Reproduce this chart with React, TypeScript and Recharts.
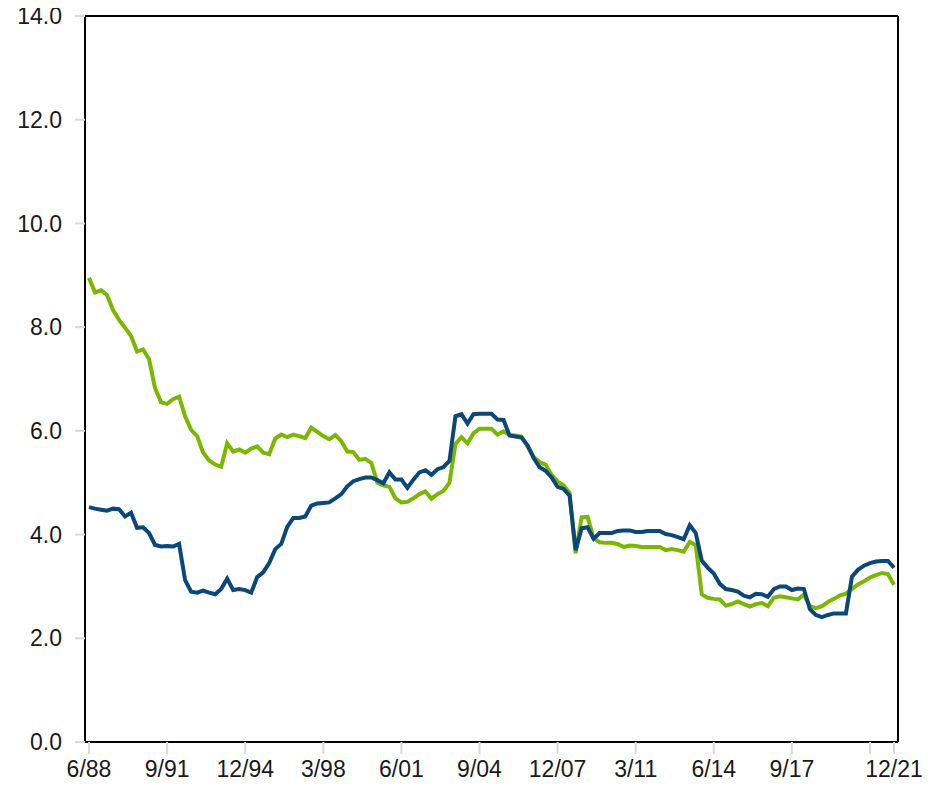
import React from 'react';
import { LineChart, Line, XAxis, YAxis, CartesianGrid } from 'recharts';

// quarterly, 6/88 .. 12/21
const startYear = 1988;
const startMonth = 6;

const greenValues = [
  8.95, 8.67, 8.71, 8.62, 8.33, 8.14, 7.99, 7.83, 7.53, 7.57,
  7.38, 6.82, 6.55, 6.52, 6.61, 6.66, 6.28, 6.02, 5.9, 5.58,
  5.43, 5.35, 5.31, 5.76, 5.6, 5.64, 5.58, 5.66, 5.7, 5.58,
  5.55, 5.85, 5.93, 5.88, 5.93, 5.9, 5.86, 6.06, 5.98, 5.9,
  5.84, 5.92, 5.8, 5.6, 5.59, 5.44, 5.46, 5.38, 5.0, 4.95,
  4.92, 4.7, 4.62, 4.63, 4.7, 4.78, 4.83, 4.69, 4.78, 4.84,
  5.0, 5.75, 5.88, 5.76, 5.95, 6.04, 6.04, 6.04, 5.93, 5.99,
  5.92, 5.91, 5.89, 5.7, 5.5, 5.4, 5.35, 5.15, 5.02, 4.95,
  4.8, 3.64, 4.33, 4.34, 3.93, 3.85, 3.84, 3.84, 3.82, 3.76,
  3.79, 3.78, 3.76, 3.76, 3.76, 3.76, 3.7, 3.72, 3.7, 3.67,
  3.86, 3.8, 2.85, 2.78, 2.76, 2.75, 2.63, 2.66, 2.71, 2.66,
  2.61, 2.66, 2.68, 2.62, 2.78, 2.81, 2.79, 2.77, 2.75, 2.84,
  2.62, 2.58, 2.62, 2.7, 2.76, 2.83, 2.86, 2.95, 3.04, 3.1,
  3.17, 3.22, 3.26, 3.24, 3.03,
];

const blueValues = [
  4.53, 4.5, 4.48, 4.46, 4.5, 4.49, 4.35, 4.42, 4.13, 4.14,
  4.03, 3.8, 3.77, 3.78, 3.77, 3.82, 3.12, 2.9, 2.88, 2.92,
  2.88, 2.85, 2.95, 3.15, 2.93, 2.95, 2.93, 2.88, 3.18, 3.27,
  3.45, 3.72, 3.82, 4.15, 4.32, 4.32, 4.35, 4.56, 4.6, 4.61,
  4.62, 4.7, 4.78, 4.93, 5.03, 5.07, 5.1, 5.1, 5.05, 4.99,
  5.2, 5.06, 5.06, 4.9, 5.06, 5.2, 5.24, 5.15, 5.26, 5.3,
  5.42, 6.28, 6.32, 6.14, 6.32, 6.33, 6.33, 6.33, 6.22, 6.21,
  5.91, 5.89, 5.87, 5.72, 5.48, 5.3, 5.23, 5.1, 4.92, 4.88,
  4.75, 3.7, 4.12, 4.14, 3.92, 4.03, 4.03, 4.03, 4.07, 4.08,
  4.08, 4.05, 4.05, 4.07, 4.07, 4.07, 4.01, 3.99, 3.95, 3.91,
  4.18, 4.03, 3.5, 3.36, 3.25, 3.05, 2.95, 2.93, 2.9, 2.82,
  2.79, 2.86, 2.85, 2.8, 2.95, 3.0, 3.0, 2.93, 2.96, 2.95,
  2.56, 2.45, 2.41, 2.45, 2.48, 2.48, 2.48, 3.19, 3.32, 3.4,
  3.45, 3.48, 3.49, 3.49, 3.36,
];

// labelled ticks every 13 quarters, plus the last quarter; 12/20 gets a mark only
const tickLabels = ['6/88', '9/91', '12/94', '3/98', '6/01', '9/04', '12/07', '3/11', '6/14', '9/17', '12/20', '12/21'];
const hiddenTickLabels = ['12/20'];

const yTicks = [0, 2, 4, 6, 8, 10, 12, 14];

const quarterLabel = (i: number) => {
  const m = startMonth - 1 + i * 3;
  const month = (m % 12) + 1;
  const year = (startYear + Math.floor(m / 12)) % 100;
  return `${month}/${String(year).padStart(2, '0')}`;
};

const data = greenValues.map((g, i) => ({
  idx: i,
  label: quarterLabel(i),
  green: g,
  blue: blueValues[i],
}));

const tickIdx = tickLabels.map((t) => data.findIndex((d) => d.label === t));

const font = '"Liberation Sans", Arial, sans-serif';

const XTick = ({ x, y, payload }: any) => {
  const label = quarterLabel(payload.value);
  if (hiddenTickLabels.includes(label)) return null;
  return (
    <text x={x} y={y} dy={17} textAnchor="middle" fontSize={23} fill="#1a1a1a" fontFamily={font}>
      {label}
    </text>
  );
};

export default function App() {
  return (
    <div style={{ width: 925, height: 788, marginTop: -8 }}>
      <LineChart width={925} height={788} data={data} margin={{ top: 16, right: 35, left: 0, bottom: 2 }}>
        {/* frame: top and right edges of the plot box */}
        <CartesianGrid
          stroke="#000"
          strokeWidth={2}
          horizontalCoordinatesGenerator={({ offset }: any) => [offset.top]}
          verticalCoordinatesGenerator={({ offset }: any) => [offset.left + offset.width]}
        />
        <XAxis
          dataKey="idx"
          type="number"
          domain={[0, data.length - 1]}
          ticks={tickIdx}
          interval={0}
          padding={{ left: 4, right: 4 }}
          tick={<XTick />}
          tickSize={12}
          tickMargin={6}
          height={44}
          axisLine={{ stroke: '#000', strokeWidth: 2 }}
          tickLine={{ stroke: '#d9d9d9', strokeWidth: 2 }}
        />
        <YAxis
          domain={[0, 14]}
          ticks={yTicks}
          interval={0}
          width={77}
          tickFormatter={(v: number) => v.toFixed(1)}
          tick={{ fontSize: 23, fill: '#1a1a1a', fontFamily: font }}
          tickSize={10}
          tickMargin={13}
          axisLine={{ stroke: '#000', strokeWidth: 2 }}
          tickLine={{ stroke: '#d9d9d9', strokeWidth: 2 }}
        />
        <Line
          type="linear"
          dataKey="green"
          stroke="#7ab800"
          strokeWidth={4}
          dot={false}
          isAnimationActive={false}
        />
        <Line
          type="linear"
          dataKey="blue"
          stroke="#0b477a"
          strokeWidth={4}
          dot={false}
          isAnimationActive={false}
        />
      </LineChart>
    </div>
  );
}
